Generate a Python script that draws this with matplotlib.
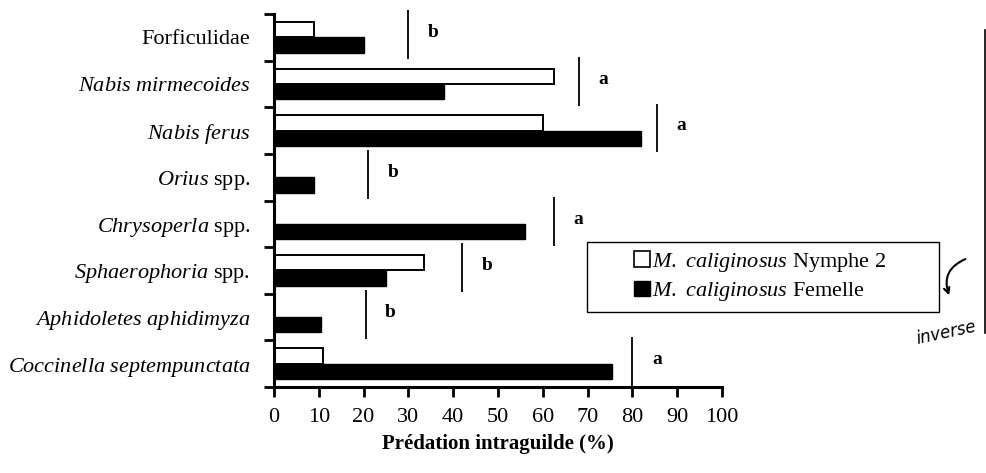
import matplotlib
matplotlib.use("Agg")
import matplotlib.pyplot as plt
from matplotlib.patches import Patch, Rectangle
from matplotlib.ticker import FixedLocator

plt.rcParams['font.family'] = ['Liberation Serif', 'DejaVu Serif']
plt.rcParams['mathtext.fontset'] = 'custom'
plt.rcParams['mathtext.rm'] = 'Liberation Serif'
plt.rcParams['mathtext.it'] = 'Liberation Serif:italic'

# données (haut -> bas)
categories = [
    "Forficulidae",
    r"$\mathit{Nabis}$ $\mathit{mirmecoides}$",
    r"$\mathit{Nabis}$ $\mathit{ferus}$",
    r"$\mathit{Orius}$ spp.",
    r"$\mathit{Chrysoperla}$ spp.",
    r"$\mathit{Sphaerophoria}$ spp.",
    r"$\mathit{Aphidoletes}$ $\mathit{aphidimyza}$",
    r"$\mathit{Coccinella}$ $\mathit{septempunctata}$",
]
nymphe = [9, 62.5, 60, 0, 0, 33.5, 0, 11]
femelle = [20, 38, 82, 9, 56, 25, 10.5, 75.5]
sig_line = [30, 68, 85.5, 21, 62.5, 42, 20.5, 80]
letters = ['b', 'a', 'a', 'b', 'a', 'b', 'b', 'a']
xticks = [0, 10, 20, 30, 40, 50, 60, 70, 80, 90, 100]

n = len(categories)
ypos = [n - 1 - i for i in range(n)]
h = 0.33

fig = plt.figure(figsize=(9.86, 4.73), dpi=100)
ax = fig.add_axes([0.2779, 0.1818, 0.4544, 0.7886])

ax.barh([y + h / 2 for y in ypos], nymphe, height=h, color='white',
        edgecolor='black', linewidth=1.4)
ax.barh([y - h / 2 for y in ypos], femelle, height=h, color='black',
        edgecolor='black', linewidth=1.0)

for y, xl, lt in zip(ypos, sig_line, letters):
    ax.plot([xl, xl], [y - 0.47, y + 0.58], color='black', lw=1.3,
            clip_on=False, solid_capstyle='butt')
    ax.text(xl + 5.5, y + 0.1, lt, fontsize=14, fontweight='bold',
            ha='center', va='center')

ax.set_xlim(0, 100)
ax.set_ylim(-0.5, n - 0.5)
ax.set_xticks(xticks)
ax.set_yticks(ypos)
ax.set_yticklabels(categories, fontsize=16)
ax.yaxis.set_minor_locator(FixedLocator([y - 0.5 for y in range(n + 1)]))
ax.tick_params(axis='y', which='major', length=0, pad=17)
ax.tick_params(axis='y', which='minor', length=7, width=2, direction='out')
ax.tick_params(axis='x', length=7, width=2, labelsize=16, pad=8)

for s in ['top', 'right']:
    ax.spines[s].set_visible(False)
for s in ['left', 'bottom']:
    ax.spines[s].set_linewidth(2.2)

ax.set_xlabel("Prédation intraguilde (%)", fontsize=15, fontweight='bold',
              labelpad=5)

# légende : cadre dessiné à part (plus large que son contenu)
fig.patches.append(Rectangle((587 / 986, 1 - 312 / 473), 352 / 986, 70 / 473,
                             transform=fig.transFigure, facecolor='white',
                             edgecolor='black', linewidth=1.0, zorder=5))
handles = [Patch(facecolor='white', edgecolor='black', linewidth=1.2),
           Patch(facecolor='black', edgecolor='black')]
leg_labels = [r"$\mathit{M.}$ $\mathit{caliginosus}$ Nymphe 2",
              r"$\mathit{M.}$ $\mathit{caliginosus}$ Femelle"]
leg = fig.legend(handles, leg_labels, loc='center left',
                 bbox_to_anchor=(634 / 986, 1 - 277 / 473), fontsize=16,
                 frameon=False, handlelength=0.7, handleheight=0.7,
                 handletextpad=0.1, borderpad=0, labelspacing=0.3,
                 borderaxespad=0)
leg.set_zorder(6)

# annotations manuscrites du scan
fig.lines.append(plt.Line2D([0.999, 0.999], [1 - 30 / 473, 1 - 333 / 473],
                            transform=fig.transFigure, color='black', lw=1.2))
fig.text(0.928, 1 - 333 / 473, "inverse", fontsize=12, style='italic',
         family='DejaVu Sans', rotation=12, ha='left', va='center')
ax.annotate("", xy=(950 / 986, 1 - 298 / 473), xytext=(968 / 986, 1 - 258 / 473),
            xycoords='figure fraction', textcoords='figure fraction',
            arrowprops=dict(arrowstyle='->', lw=1.5,
                            connectionstyle='arc3,rad=0.5'))

fig.savefig("out.png", dpi=100)
